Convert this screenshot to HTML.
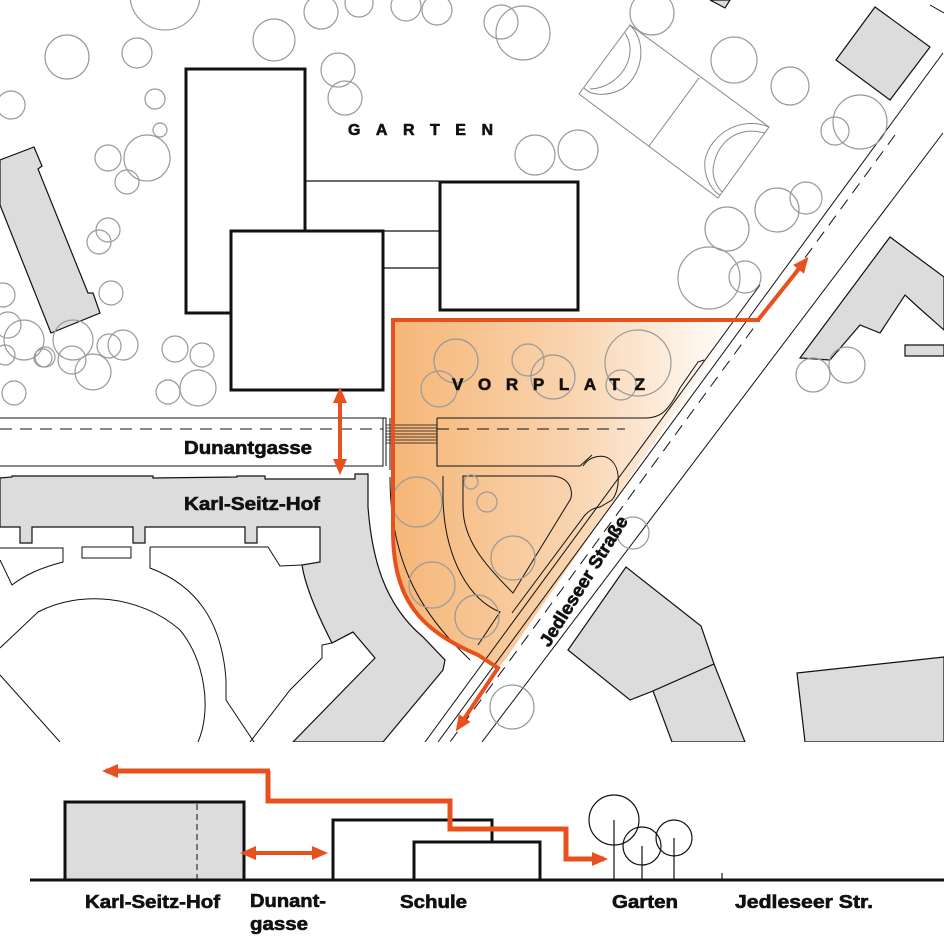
<!DOCTYPE html>
<html><head><meta charset="utf-8"><style>
html,body{margin:0;padding:0;background:#fff}
svg{display:block}
text{font-family:"Liberation Sans",Arial,sans-serif;font-weight:bold;fill:#111;stroke:#111;stroke-width:0.6}
</style></head><body>
<svg width="944" height="942" viewBox="0 0 944 942" xmlns="http://www.w3.org/2000/svg">
<defs>
<linearGradient id="g" x1="393" y1="0" x2="740" y2="0" gradientUnits="userSpaceOnUse">
<stop offset="0" stop-color="#f5b677"/><stop offset="0.5" stop-color="#f9d3ad"/><stop offset="1" stop-color="#ffffff"/></linearGradient>
<marker id="ah" markerWidth="16" markerHeight="14" refX="12" refY="7" orient="auto" markerUnits="userSpaceOnUse"><path d="M0,0 L16,7 L0,14 Z" fill="#e8501e"/></marker>
<marker id="as" markerWidth="16" markerHeight="14" refX="4" refY="7" orient="auto-start-reverse" markerUnits="userSpaceOnUse"><path d="M0,0 L16,7 L0,14 Z" fill="#e8501e"/></marker>
<clipPath id="mc"><rect x="0" y="0" width="944" height="742"/></clipPath>
</defs>
<g clip-path="url(#mc)">
<path d="M393,320 L738,320 L505,660 L498,668 L478,655 C420,630 393,600 393,530 Z" fill="url(#g)"/>
<g fill="#dcdcdc" stroke="#111" stroke-width="1.2">
<path d="M0,160 L34,147 L42,166 L38,169 L88,293 L93,293 L100,313 L51,333 L0,205 Z"/>
<path d="M836,60 L875,7 L930,47 L890,100 Z"/>
<path d="M800,358 L890,237 L944,277 L944,330 L918,307 L905,295 L880,333 L860,325 L830,360 Z"/>
<path d="M905,345 L944,345 L944,356 L905,356 Z"/>
<path d="M710,0 L730,0 L725,8 Z"/>
<path d="M568,650 L626,567 L701,626 L714,664 L653,691 L630,700 Z"/>
<path d="M653,691 L714,664 L745,742 L672,742 Z"/>
<path d="M797,673 L944,657 L944,742 L805,742 Z"/>
<path d="M0,478 L12,477 L12,476 L153,476 L153,478 L237,477 L237,476 L265,476 L265,479 L355,479 L355,474 L368,474 L368,507 C372,560 385,605 423,637 L445,660 L443,670 L383,742 L293,742 L375,658 L353,632 L332,643 C315,610 305,585 302,565 L320,562 L320,527 L257,527 L257,543 L245,543 L245,527 L145,527 L145,543 L133,543 L133,527 L32,527 L32,543 L20,543 L20,527 L0,527 Z"/>
</g>
<g fill="none" stroke="#111" stroke-width="1">
<path d="M0,548 L63,548 L63,562 C40,568 25,575 12,585 L0,560"/>
<rect x="82" y="547" width="49" height="11"/>
<path d="M150,547 L268,547 L280,566 L302,565"/>
<path d="M150,547 L150,568 C195,585 222,620 226,680 L226,700 L254,742"/>
<path d="M0,648 L38,612 C80,590 140,595 180,630 C205,660 212,710 198,742"/>
<path d="M0,675 L60,742"/>
<path d="M353,632 L332,643 L322,645 L322,658 L290,690 L250,742"/>
<path d="M390,477 C390,560 420,610 460,650 L470,660"/>
<path d="M0,418 L383,418 L383,466 L0,466"/>
<path d="M383,418 L386,418 L386,466"/>
<path d="M437,418 L645,418 C660,418 668,412 680,388 L698,362 L704,360"/>
<path d="M437,418 L437,466 L580,466 L592,455"/>
<path d="M443,476 L443,500 C445,560 470,600 500,612 L478,645"/>
<path d="M463,476 L553,476 C573,478 573,495 570,500 L513,593 C485,565 463,540 463,507 Z"/>
<path d="M583,466 C590,455 603,455 608,458 C622,466 620,490 612,500 L600,507 C592,508 588,512 585,515 L512,613"/>
<path d="M390,418 L390,470 M437,418 L437,466"/>
<line x1="760" y1="285" x2="425" y2="742"/>
<line x1="943" y1="53" x2="438" y2="742"/>
<line x1="943" y1="133" x2="482" y2="742"/>
<line x1="930" y1="5" x2="944" y2="13"/>
</g>
<g stroke="#111" stroke-width="1" fill="none" stroke-dasharray="12,8">
<line x1="0" y1="429" x2="383" y2="429"/>
<line x1="437" y1="429" x2="625" y2="429"/>
<line x1="895" y1="135" x2="450" y2="742"/>
</g>
<g stroke="#111" stroke-width="0.8">
<line x1="386" y1="425" x2="437" y2="425"/><line x1="386" y1="428" x2="437" y2="428"/><line x1="386" y1="431" x2="437" y2="431"/><line x1="386" y1="434" x2="437" y2="434"/><line x1="386" y1="437" x2="437" y2="437"/><line x1="386" y1="440" x2="437" y2="440"/><line x1="386" y1="443" x2="437" y2="443"/>
</g>
<g fill="none" stroke="#888" stroke-width="1">
<path d="M630,25 L769,127 L718,198 L579,94 Z"/>
<line x1="699" y1="78" x2="649" y2="146"/>
<path d="M630,25 C650,45 640,80 620,90 C605,97 590,95 584,88"/>
<path d="M625,33 C640,55 620,88 590,89"/>
<path d="M769,127 C740,115 710,135 705,160 C703,180 715,193 720,195"/>
<path d="M765,133 C735,125 715,145 713,170 C713,182 720,190 722,192"/>
</g>
<g fill="none" stroke="#999" stroke-width="1.2">
<circle cx="165" cy="-5" r="35"/><circle cx="67" cy="57" r="22"/><circle cx="137" cy="53" r="15"/><circle cx="11" cy="105" r="14"/><circle cx="155" cy="99" r="10"/><circle cx="160" cy="130" r="7"/><circle cx="108" cy="158" r="13"/><circle cx="147" cy="158" r="23"/><circle cx="127" cy="182" r="12"/><circle cx="274" cy="40" r="21"/><circle cx="321" cy="12" r="17"/><circle cx="338" cy="70" r="17"/><circle cx="345" cy="98" r="17"/><circle cx="359" cy="3" r="14"/><circle cx="406" cy="6" r="15"/><circle cx="437" cy="10" r="15"/><circle cx="108" cy="230" r="12"/><circle cx="99" cy="242" r="12"/><circle cx="111" cy="293" r="12"/><circle cx="3" cy="295" r="12"/><circle cx="8" cy="325" r="13"/><circle cx="24" cy="340" r="20"/><circle cx="45" cy="357" r="10"/><circle cx="73" cy="340" r="20"/><circle cx="43" cy="358" r="9"/><circle cx="123" cy="345" r="15"/><circle cx="109" cy="346" r="12"/><circle cx="72" cy="360" r="14"/><circle cx="93" cy="372" r="18"/><circle cx="175" cy="349" r="13"/><circle cx="202" cy="355" r="12"/><circle cx="198" cy="388" r="18"/><circle cx="168" cy="392" r="12"/><circle cx="14" cy="393" r="12"/><circle cx="5" cy="355" r="10"/>
<circle cx="523" cy="33" r="27"/><circle cx="501" cy="22" r="17"/><circle cx="652" cy="13" r="22"/><circle cx="734" cy="60" r="23"/><circle cx="790" cy="86" r="19"/><circle cx="860" cy="122" r="27"/><circle cx="835" cy="131" r="14"/><circle cx="535" cy="155" r="20"/><circle cx="578" cy="150" r="20"/><circle cx="727" cy="229" r="22"/><circle cx="777" cy="210" r="22"/><circle cx="806" cy="198" r="16"/><circle cx="709" cy="278" r="31"/><circle cx="745" cy="277" r="16"/><circle cx="813" cy="375" r="17"/><circle cx="847" cy="365" r="18"/>
<circle cx="456" cy="361" r="22"/><circle cx="439" cy="389" r="18"/><circle cx="528" cy="360" r="16"/><circle cx="553" cy="377" r="22"/><circle cx="621" cy="385" r="15"/><circle cx="638" cy="363" r="33"/>
<circle cx="417" cy="502" r="25"/><circle cx="471" cy="482" r="7"/><circle cx="487" cy="502" r="10"/><circle cx="513" cy="558" r="22"/><circle cx="432" cy="585" r="23"/><circle cx="477" cy="617" r="22"/><circle cx="633" cy="533" r="16"/><circle cx="512" cy="707" r="22"/>
</g>
<g fill="#fff" stroke="#111" stroke-width="3">
<rect x="186" y="69" width="119" height="244"/>
<rect x="440" y="182" width="138" height="128"/>
<rect x="231" y="231" width="152" height="159"/>
</g>
<g stroke="#111" stroke-width="1.2">
<line x1="306" y1="181" x2="439" y2="181"/><line x1="384" y1="231" x2="439" y2="231"/><line x1="384" y1="268" x2="439" y2="268"/>
</g>
<g fill="none" stroke="#e8501e" stroke-width="4">
<path d="M760,320 L393,320 L393,530 C393,600 420,630 478,655 L498,668 L458,728" marker-end="url(#ah)"/>
<path d="M758,320 L806,260" marker-end="url(#ah)"/>
<line x1="340" y1="399" x2="340" y2="471" marker-start="url(#as)" marker-end="url(#ah)"/>
</g>
</g>
<text x="348" y="135" font-size="16" stroke-width="0.9" textLength="145" lengthAdjust="spacing">GARTEN</text>
<text x="452" y="390" font-size="17" stroke-width="0.9" textLength="193" lengthAdjust="spacing">VORPLATZ</text>
<text x="184" y="454" font-size="18" textLength="128" lengthAdjust="spacingAndGlyphs">Dunantgasse</text>
<text x="184" y="510" font-size="18" textLength="136" lengthAdjust="spacingAndGlyphs">Karl-Seitz-Hof</text>
<text x="0" y="0" font-size="18" textLength="150" lengthAdjust="spacingAndGlyphs" transform="translate(549,648) rotate(-58)">Jedleseer Straße</text>
<rect x="65" y="802" width="179" height="78" fill="#dcdcdc" stroke="#111" stroke-width="3"/>
<line x1="197" y1="804" x2="197" y2="879" stroke="#111" stroke-width="1" stroke-dasharray="6,4"/>
<rect x="333" y="820" width="159" height="60" fill="none" stroke="#111" stroke-width="3"/>
<rect x="414" y="842" width="126" height="38" fill="#fff" stroke="#111" stroke-width="3"/>
<line x1="30" y1="880" x2="944" y2="880" stroke="#111" stroke-width="3"/>
<g fill="none" stroke="#111" stroke-width="1.2">
<circle cx="614" cy="820" r="25"/><circle cx="642" cy="846" r="19"/><circle cx="674" cy="838" r="18"/>
<line x1="614" y1="820" x2="614" y2="880"/><line x1="642" y1="846" x2="642" y2="880"/><line x1="674" y1="838" x2="674" y2="880"/><line x1="722" y1="873" x2="722" y2="880"/>
</g>
<g fill="none" stroke="#e8501e" stroke-width="5">
<path d="M268,771 L268,801 L450,801 L450,829 L566,829 L566,859 L604,859" marker-end="url(#ah)"/>
<path d="M270,771 L106,771" marker-end="url(#ah)"/>
<line x1="252" y1="853" x2="324" y2="853" stroke-width="4" marker-start="url(#as)" marker-end="url(#ah)"/>
</g>
<text x="85" y="908" font-size="18" textLength="135" lengthAdjust="spacingAndGlyphs">Karl-Seitz-Hof</text>
<text x="250" y="907" font-size="18" textLength="76" lengthAdjust="spacingAndGlyphs">Dunant-</text>
<text x="250" y="930" font-size="18" textLength="58" lengthAdjust="spacingAndGlyphs">gasse</text>
<text x="400" y="908" font-size="18" textLength="67" lengthAdjust="spacingAndGlyphs">Schule</text>
<text x="612" y="908" font-size="18" textLength="66" lengthAdjust="spacingAndGlyphs">Garten</text>
<text x="735" y="908" font-size="18" textLength="138" lengthAdjust="spacingAndGlyphs">Jedleseer Str.</text>
</svg>
</body></html>
